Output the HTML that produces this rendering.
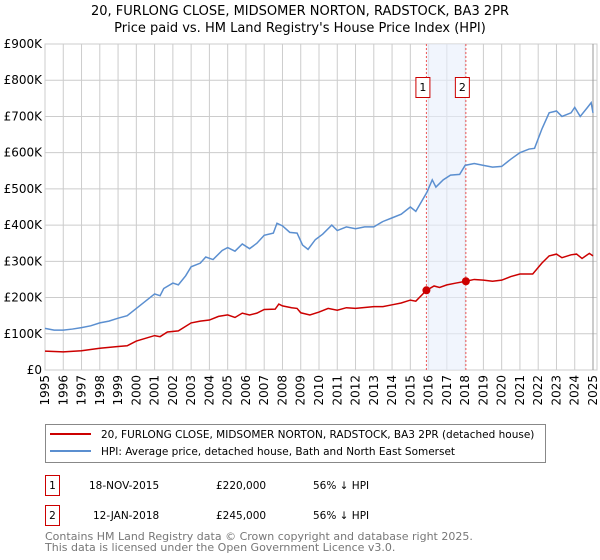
<!DOCTYPE html>
<html><head><meta charset="utf-8"><style>
body{margin:0;width:600px;height:560px;background:#fff;font-family:"DejaVu Sans","Liberation Sans",sans-serif;overflow:hidden}
svg{position:absolute;left:0;top:0}
</style></head><body>
<svg id="c" width="600" height="560" xmlns="http://www.w3.org/2000/svg">
<text x="300" y="15" text-anchor="middle" font-size="13" fill="#000">20, FURLONG CLOSE, MIDSOMER NORTON, RADSTOCK, BA3 2PR</text>
<text x="300" y="32" text-anchor="middle" font-size="13" fill="#000">Price paid vs. HM Land Registry's House Price Index (HPI)</text>
<g id="grid"></g><g id="marks"></g><g id="axes"></g>
<g>
<rect x="45.5" y="424.5" width="500" height="38" fill="#fff" stroke="#888"/>
<line x1="50" y1="434" x2="91" y2="434" stroke="#cc0000" stroke-width="2"/>
<text x="101" y="438" font-size="10.5">20, FURLONG CLOSE, MIDSOMER NORTON, RADSTOCK, BA3 2PR (detached house)</text>
<line x1="50" y1="451" x2="91" y2="451" stroke="#5b8fd0" stroke-width="2"/>
<text x="101" y="455" font-size="10.5">HPI: Average price, detached house, Bath and North East Somerset</text>
</g>
<g font-size="10.5">
<rect x="45.5" y="475.5" width="14" height="20" fill="none" stroke="#cc0000"/>
<text x="52.5" y="489" text-anchor="middle">1</text>
<text x="89" y="489">18-NOV-2015</text>
<text x="216" y="489">£220,000</text>
<text x="313" y="489">56% ↓ HPI</text>
<rect x="45.5" y="505.5" width="14" height="20" fill="none" stroke="#cc0000"/>
<text x="52.5" y="519" text-anchor="middle">2</text>
<text x="93" y="519">12-JAN-2018</text>
<text x="216" y="519">£245,000</text>
<text x="313" y="519">56% ↓ HPI</text>
</g>
<text x="45" y="540" font-size="11" fill="#777">Contains HM Land Registry data © Crown copyright and database right 2025.</text>
<text x="45" y="551" font-size="11" fill="#777">This data is licensed under the Open Government Licence v3.0.</text>
</svg>
<script>
const hpiYears=[1995,1995.5,1996,1996.5,1997,1997.5,1998,1998.5,1999,1999.5,2000,2000.5,2001,2001.3,2001.5,2002,2002.3,2002.7,2003,2003.5,2003.8,2004.2,2004.7,2005,2005.4,2005.8,2006.2,2006.6,2007,2007.5,2007.7,2008,2008.4,2008.8,2009.1,2009.4,2009.8,2010.2,2010.7,2011,2011.5,2012,2012.5,2013,2013.5,2014,2014.5,2015,2015.3,2015.9,2016.2,2016.4,2016.8,2017.2,2017.7,2018,2018.5,2019,2019.5,2020,2020.5,2021,2021.5,2021.8,2022.2,2022.6,2023,2023.3,2023.8,2024,2024.3,2024.7,2024.9,2025];
const hpiValues=[115,110,110,113,117,122,130,135,143,150,170,190,210,205,225,240,235,260,285,295,312,305,330,338,328,348,335,350,372,378,405,398,380,378,345,333,360,375,400,385,395,390,395,395,410,420,430,450,438,490,525,505,525,538,540,565,570,565,560,562,582,600,610,612,665,710,715,700,710,725,700,725,738,710];
const priceYears=[1995,1996,1997,1998,1999,1999.5,2000,2001,2001.3,2001.7,2002.3,2003,2003.5,2004,2004.5,2005,2005.4,2005.8,2006.2,2006.6,2007,2007.6,2007.8,2008,2008.5,2008.8,2009,2009.5,2010,2010.5,2011,2011.5,2012,2013,2013.5,2014,2014.5,2015,2015.3,2015.88,2016.3,2016.6,2017,2017.5,2018.04,2018.5,2019,2019.5,2020,2020.5,2021,2021.7,2022.2,2022.6,2023,2023.3,2023.8,2024.1,2024.4,2024.8,2025];
const priceValues=[52,50,53,60,65,67,80,95,92,105,108,130,135,138,148,152,145,157,152,157,167,168,182,177,172,170,158,152,160,170,165,172,170,175,175,180,185,193,190,220,232,228,235,240,245,250,248,245,248,258,265,265,295,315,320,310,318,320,308,322,315];
const saleYears=[2015.88,2018.04];
const saleValues=[220,245];
const saleLabels=["1","2"];
const yTicks=[0,100,200,300,400,500,600,700,800,900];
const yTickLabels=["£0","£100K","£200K","£300K","£400K","£500K","£600K","£700K","£800K","£900K"];
const xTicks=[1995,1996,1997,1998,1999,2000,2001,2002,2003,2004,2005,2006,2007,2008,2009,2010,2011,2012,2013,2014,2015,2016,2017,2018,2019,2020,2021,2022,2023,2024,2025];

const X0=45,X1=593,Y0=370,Y1=44;
const xs=y=>X0+(y-1995)/30*(X1-X0);
const ys=v=>Y0-v/900*(Y0-Y1);
const NS="http://www.w3.org/2000/svg";
function mk(parent,tag,attrs){const e=document.createElementNS(NS,tag);for(const k in attrs)e.setAttribute(k,attrs[k]);parent.appendChild(e);return e;}
const grid=document.getElementById('grid'),marks=document.getElementById('marks'),axes=document.getElementById('axes');
const bg=mk(grid,'rect',{x:X0,y:Y1,width:597-X0,height:Y0-Y1,fill:'#fff',stroke:'#ccc'});


yTicks.forEach((t,i)=>{
  const l=mk(grid,'line',{x1:X0,x2:597,y1:ys(t),y2:ys(t),stroke:'#cccccc'});
  
  
  const tx=mk(axes,'text',{x:X0-3,y:ys(t)+4,'text-anchor':'end','font-size':'12'});
  tx.textContent=yTickLabels[i];
  
  
});
xTicks.forEach(t=>{
  const l=mk(grid,'line',{x1:xs(t),x2:xs(t),y1:Y1,y2:Y0,stroke:'#cccccc'});
  
  
  const tx=mk(axes,'text',{x:0,y:0,'text-anchor':'end','font-size':'12',transform:`translate(${xs(t)+4},${Y0+5}) rotate(-90)`});
  tx.textContent=t;
  
  
});
const endLine=mk(grid,'line',{x1:X1,x2:X1,y1:Y1,y2:Y0,stroke:'#999'});


const band=mk(marks,'rect',{x:xs(saleYears[0]),y:Y1,width:xs(saleYears[1])-xs(saleYears[0]),height:Y0-Y1,fill:'#e8eefc',opacity:0.6});


saleYears.forEach((y,i)=>{
  const l=mk(marks,'line',{x1:xs(y),x2:xs(y),y1:Y1,y2:Y0,stroke:'#ee5555','stroke-dasharray':'2,2'});
  
  
  const r=mk(marks,'rect',{x:xs(y)-10.5,y:77.5,width:14,height:20,fill:'#fff',stroke:'#cc0000'});
  
  
  const t=mk(marks,'text',{x:xs(y)-3.5,y:91,'text-anchor':'middle','font-size':'11'});
  t.textContent=saleLabels[i];
  
  
});
const hp=mk(marks,'polyline',{points:hpiYears.map((y,i)=>xs(y)+','+ys(hpiValues[i])).join(' '),fill:'none',stroke:'#5b8fd0','stroke-width':1.5});


const pp=mk(marks,'polyline',{points:priceYears.map((y,i)=>xs(y)+','+ys(priceValues[i])).join(' '),fill:'none',stroke:'#cc0000','stroke-width':1.5});


saleYears.forEach((y,i)=>{
  const c=mk(marks,'circle',{cx:xs(y),cy:ys(saleValues[i]),r:4,fill:'#cc0000'});
  
  
});
</script>
</body></html>
